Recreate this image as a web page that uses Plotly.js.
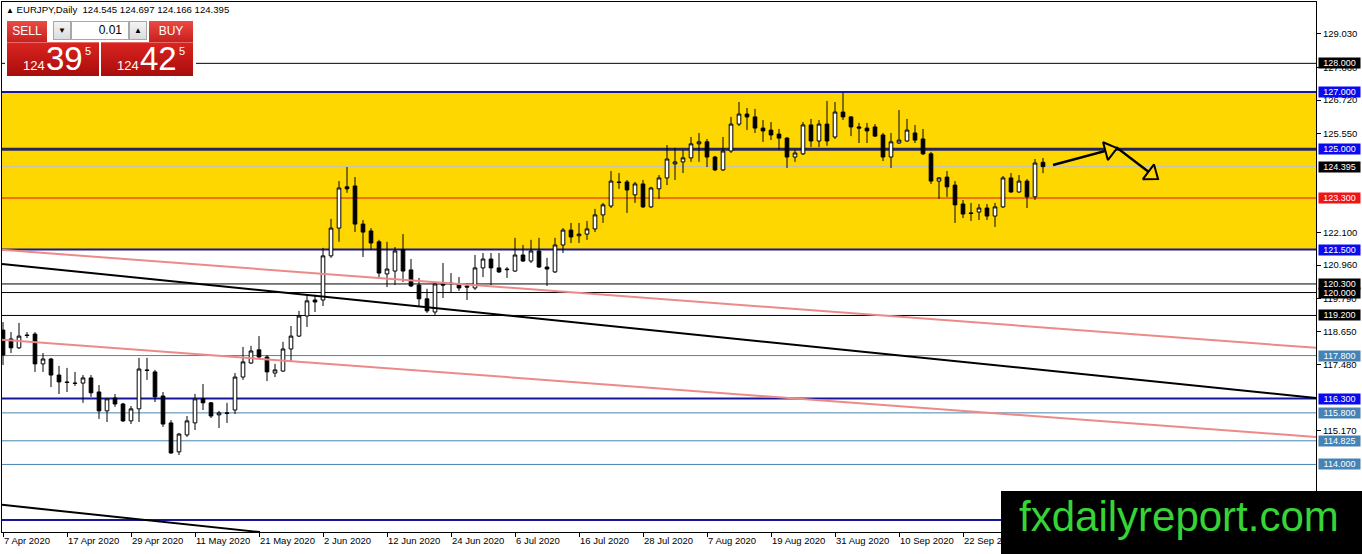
<!DOCTYPE html>
<html>
<head>
<meta charset="utf-8">
<script src="https://cdn.plot.ly/plotly-3.0.1.min.js"></script>
<style>
  html, body { margin:0; padding:0; background:#fff; }
  #wrap { position:relative; width:1362px; height:554px; overflow:hidden; font-family:'Liberation Sans', Arial, sans-serif; }
  #chart { position:absolute; left:0; top:0; width:1362px; height:554px; }
  .ov { position:absolute; }
  #hdr { left:6px; top:5px; font-size:9.6px; line-height:9px; color:#000; white-space:pre; }
  #hdr .tri { font-size:8px; }
  #panelBg { left:5px; top:19px; width:191px; height:59px; background:#fff; }
  .btn { top:21px; height:21px; color:#fff; font-size:12px; line-height:21px; text-align:center;
         background:linear-gradient(#ea4a44, #c8201e); }
  #sellBtn { left:7px; width:40px; }
  #buyBtn { left:149px; width:44px; }
  .spin { top:21px; width:18px; height:19px; background:linear-gradient(#f4f4f4,#dcdcdc); border:1px solid #a8a8a8;
          box-sizing:border-box; font-size:8px; line-height:18px; text-align:center; color:#000; }
  #spinDn { left:53px; }
  #spinUp { left:129px; }
  #lot { left:71px; top:21px; width:58px; height:19px; background:#fff; border:1px solid #a8a8a8; box-sizing:border-box;
         font-size:12px; line-height:17px; text-align:right; padding-right:6px; color:#000; }
  .pbox { top:42px; width:92px; height:34px; background:linear-gradient(#da2420, #a80c0c); border-top:1px solid #e86a66; box-sizing:border-box; color:#fff; }
  #sellBox { left:7px; }
  #buyBox { left:101px; }
  .pbox span { position:absolute; line-height:1; white-space:nowrap; }
  .pbox .s { font-size:13px; top:16px; }
  .pbox .b { font-size:33px; top:-1px; font-family:'Liberation Sans Narrow','Liberation Sans',Arial,sans-serif; }
  .pbox .p { font-size:11px; top:3px; }
  #logo { left:1001px; top:491px; width:361px; height:63px; background:#000; }
  #logo div { position:absolute; left:18px; top:5px; font-size:42px; line-height:42px; color:#36d436; white-space:nowrap; }
</style>
</head>
<body>
<div id="wrap">
  <div id="chart"></div>
  <div class="ov" id="hdr"><span class="tri">&#9650;</span> EURJPY,Daily  124.545 124.697 124.166 124.395</div>
  <div class="ov" id="panelBg"></div>
  <div class="ov btn" id="sellBtn">SELL</div>
  <div class="ov spin" id="spinDn">&#9660;</div>
  <div class="ov" id="lot">0.01</div>
  <div class="ov spin" id="spinUp">&#9650;</div>
  <div class="ov btn" id="buyBtn">BUY</div>
  <div class="ov pbox" id="sellBox"><span class="s" style="left:16px">124</span><span class="b" style="left:39px">39</span><span class="p" style="left:78px">5</span></div>
  <div class="ov pbox" id="buyBox"><span class="s" style="left:16px">124</span><span class="b" style="left:39px">42</span><span class="p" style="left:78px">5</span></div>
  <div class="ov" id="logo"><div>fxdailyreport.com</div></div>
</div>
<script>
// ---------------- data (EURJPY daily, 7 Apr 2020 onwards) ----------------
const openP = [
 118.69,118.38,118.07,118.52,118.55,117.51,117.68,117.12,116.88,116.84,
 116.84,117.02,116.53,115.87,116.32,116.11,115.52,115.94,117.30,117.23,
 116.39,115.45,114.44,115.03,115.45,116.29,116.15,115.73,115.80,115.90,
 117.05,117.54,118.00,117.75,117.19,117.26,118.03,118.48,119.18,119.74,
 119.74,121.28,122.25,123.69,123.72,122.39,122.15,121.77,120.65,120.75,
 121.49,120.79,120.26,119.78,119.32,120.30,120.33,120.30,120.23,120.16,
 120.86,121.17,120.86,120.82,120.75,121.31,121.10,121.45,120.89,120.72,
 121.66,122.18,121.98,122.04,122.22,122.71,123.02,123.86,123.86,123.41,
 123.79,122.99,123.62,124.00,124.49,124.56,124.70,125.19,125.26,124.73,
 124.28,124.94,125.88,126.23,126.13,125.74,125.67,125.53,125.39,124.73,
 124.84,125.85,125.29,125.88,125.43,126.30,126.13,125.78,125.74,125.78,
 125.50,124.73,125.22,125.29,125.57,125.36,124.84,123.89,124.03,123.75,
 123.09,122.78,122.81,122.95,122.67,122.99,124.00,123.51,123.89,123.34,
 124.545];
const highP = [
 118.97,118.62,118.94,118.62,118.62,117.89,117.72,117.44,117.37,117.23,
 117.12,117.12,116.77,116.32,116.46,116.15,116.04,117.72,117.72,117.30,
 116.53,115.55,115.10,115.69,116.46,116.81,116.18,115.87,116.15,117.19,
 118.10,118.14,118.48,117.82,117.51,118.28,118.83,119.36,119.92,119.92,
 121.56,122.57,123.89,124.38,124.03,122.53,122.25,121.84,121.77,121.59,
 122.04,121.17,120.51,120.13,120.33,121.03,120.68,120.54,120.33,121.31,
 121.38,121.38,121.38,120.89,121.91,121.66,121.84,121.91,121.21,121.91,
 122.25,122.43,122.43,122.50,122.92,123.13,124.24,124.17,123.93,123.86,
 123.93,123.69,124.10,125.15,125.05,124.98,125.43,125.57,125.36,124.77,
 125.43,126.13,126.65,126.44,126.41,126.02,125.95,125.71,125.43,124.98,
 125.95,126.06,126.02,126.69,126.65,126.97,126.16,125.92,125.92,125.88,
 125.57,125.57,126.37,126.06,125.85,125.71,124.91,124.03,124.24,123.89,
 123.23,123.13,123.09,123.09,123.13,124.07,124.17,124.10,123.96,124.66,
 124.697];
const lowP = [
 117.47,117.89,118.03,118.41,117.23,117.23,116.70,116.46,116.53,116.74,
 116.15,116.36,115.59,115.48,116.01,115.48,115.41,115.48,116.95,116.18,
 115.31,114.37,114.33,114.96,115.20,115.90,115.62,115.27,115.45,115.76,
 116.95,117.51,117.68,116.91,117.05,117.23,117.58,118.45,118.80,119.32,
 119.53,121.21,121.77,123.48,122.11,121.24,121.49,120.54,120.19,120.26,
 120.37,120.19,119.50,119.29,119.22,119.81,119.99,120.06,119.74,120.09,
 120.54,120.26,120.68,120.51,120.72,121.07,121.03,120.86,120.23,120.68,
 121.38,121.73,121.73,121.84,122.11,122.43,122.95,123.62,122.78,123.13,
 122.95,122.95,123.27,123.75,123.93,124.17,124.56,124.56,124.38,124.24,
 124.24,124.87,125.81,125.67,125.57,125.26,125.32,124.98,124.35,124.56,
 124.80,125.08,125.08,125.12,125.36,126.02,125.46,125.22,125.22,125.43,
 124.59,124.35,125.19,125.26,125.22,124.80,123.79,123.27,123.34,122.43,
 122.60,122.50,122.53,122.53,122.29,122.95,123.48,123.48,122.95,123.23,
 124.166];
const closeP = [
 117.82,118.07,118.48,118.50,117.51,117.68,117.12,116.88,116.86,116.83,
 117.02,116.50,115.87,116.29,116.11,115.52,115.94,117.33,117.28,116.36,
 115.41,114.40,115.06,115.52,116.29,116.15,115.69,115.80,115.78,117.05,
 117.58,117.96,117.75,117.23,117.30,118.03,118.48,119.18,119.71,119.67,
 121.28,122.25,123.65,123.62,122.39,122.11,121.73,120.68,120.82,121.45,
 120.75,120.23,119.78,119.36,120.30,120.26,120.31,120.16,120.19,120.86,
 121.17,120.86,120.72,120.80,121.31,121.10,121.45,120.89,120.82,121.66,
 122.18,121.94,122.04,122.22,122.71,123.06,123.89,123.84,123.58,123.79,
 122.99,123.65,124.00,124.66,124.56,124.70,125.19,125.26,124.73,124.28,
 124.94,125.88,126.23,126.13,125.74,125.64,125.50,125.39,124.73,124.87,
 125.85,125.29,125.88,125.29,126.30,126.13,125.78,125.74,125.64,125.46,
 124.73,125.26,125.32,125.67,125.32,124.84,123.89,124.00,123.69,123.06,
 122.74,122.76,122.95,122.67,122.99,124.00,123.51,123.89,123.34,124.52,
 124.395];

// x-axis date labels, one every 8 bars starting at the first bar
const dateLabels = ['7 Apr 2020','17 Apr 2020','29 Apr 2020','11 May 2020','21 May 2020','2 Jun 2020',
  '12 Jun 2020','24 Jun 2020','6 Jul 2020','16 Jul 2020','28 Jul 2020','7 Aug 2020','19 Aug 2020',
  '31 Aug 2020','10 Sep 2020','22 Sep 2020'];
const barsPerLabel = 8;

// price scale tick values shown on the right axis
const yTickVals = [129.03,127.86,126.72,125.55,122.10,120.96,119.79,118.65,117.48,115.17];

// horizontal levels
const zoneLow = 121.5, zoneHigh = 127.0;
const levelPrices = [128.0,127.0,125.0,124.395,123.3,121.5,120.3,120.0,119.2,117.8,116.3,115.8,114.825,114.0,112.06];
const levelKinds  = ['k','b','b2','bid','r','b','k','k','k','s','b','s','s','s','b'];
const labeledLevels = [128.0,127.0,125.0,124.395,123.3,121.5,120.0,120.3,119.2,117.8,116.3,115.8,114.825,114.0];
const labelKinds    = ['k','b','b','k','r','b','k','k','k','s','b','s','s','s'];

// trend lines (bar index, price) at the chart edges
const blackTrendX = [-0.125,164.125], blackTrendY = [121.00,116.32];
const pinkTrend1X = [-0.125,164.125], pinkTrend1Y = [121.49,118.07];
const pinkTrend2X = [-0.125,164.125], pinkTrend2Y = [118.35,114.96];
const blackTrend2X = [-0.125,32.125], blackTrend2Y = [112.59,111.64];

// forecast arrow drawn on the chart (bar index, price)
const arrowX = [131.25,139.25,144.375];
const arrowY = [124.45,125.05,123.96];
const headX = [138.29,143.58], headY = [124.97,124.13], headAngle = [75,127];

// ---------------- build ----------------
const xIdx = openP.map((_, i) => i);
const tickVals = dateLabels.map((_, k) => k * barsPerLabel);

const lineStyle = {
  k:   {color:'#000000', width:1},
  b:   {color:'#16169a', width:2},
  b2:  {color:'#26265e', width:3},
  bid: {color:'#c0c0c0', width:1},
  r:   {color:'#e01010', width:1},
  s:   {color:'#4a84b0', width:1}
};
const labelBg = {k:'#000000', b:'#0a0af0', r:'#f01414', s:'#4682b4'};
const FONT = 'Liberation Sans, Arial, sans-serif';

const shapes = [{type:'rect', xref:'paper', x0:0, x1:1, yref:'y', y0:zoneLow, y1:zoneHigh,
  fillcolor:'#ffd700', line:{width:0}, layer:'below'}];
levelPrices.forEach((p, i) => {
  shapes.push({type:'line', xref:'paper', x0:0, x1:1, yref:'y', y0:p, y1:p,
    line:lineStyle[levelKinds[i]], layer:'below'});
});

const annotations = labeledLevels.map((p, i) => ({
  xref:'paper', x:1, xanchor:'left', xshift:2, yref:'y', y:p, yanchor:'middle',
  text:p.toFixed(3), showarrow:false, bgcolor:labelBg[labelKinds[i]],
  font:{family:FONT, size:9, color:'#ffffff'}, width:41, height:10, borderpad:0, align:'center'
}));

const traces = [
  {type:'candlestick', x:xIdx, open:openP, high:highP, low:lowP, close:closeP,
   increasing:{line:{color:'#000', width:1}, fillcolor:'#ffffff'},
   decreasing:{line:{color:'#000', width:1}, fillcolor:'#000000'},
   whiskerwidth:0, hoverinfo:'skip'},
  {type:'scatter', mode:'lines', x:blackTrendX, y:blackTrendY, line:{color:'#000', width:2}, hoverinfo:'skip'},
  {type:'scatter', mode:'lines', x:blackTrend2X, y:blackTrend2Y, line:{color:'#000', width:2}, hoverinfo:'skip'},
  {type:'scatter', mode:'lines', x:pinkTrend1X, y:pinkTrend1Y, line:{color:'#ec8a8a', width:2}, hoverinfo:'skip'},
  {type:'scatter', mode:'lines', x:pinkTrend2X, y:pinkTrend2Y, line:{color:'#ec8a8a', width:2}, hoverinfo:'skip'},
  {type:'scatter', mode:'lines', x:arrowX, y:arrowY, line:{color:'#000', width:2.5}, hoverinfo:'skip'},
  {type:'scatter', mode:'markers', x:headX, y:headY,
   marker:{symbol:'triangle-up', size:16, color:'#ffd700', angle:headAngle, line:{color:'#000', width:2}}, hoverinfo:'skip'}
];

const layout = {
  width:1362, height:554,
  margin:{l:2, r:46, t:2, b:22, pad:0},
  paper_bgcolor:'#ffffff', plot_bgcolor:'#ffffff',
  showlegend:false, hovermode:false, boxgap:0.35,
  xaxis:{range:[-0.125,164.125], showgrid:false, zeroline:false, showline:true, mirror:true,
    linecolor:'#000', linewidth:1, ticks:'outside', ticklen:4, tickcolor:'#000',
    tickvals:tickVals, ticktext:dateLabels, ticklabelposition:'outside right',
    tickfont:{family:FONT, size:9.5, color:'#000'}, rangeslider:{visible:false}, fixedrange:true},
  yaxis:{side:'right', range:[111.642,130.141], showgrid:false, zeroline:false, showline:true, mirror:true,
    linecolor:'#000', linewidth:1, ticks:'outside', ticklen:4, tickcolor:'#000',
    tickvals:yTickVals, tickformat:'.3f', tickfont:{family:FONT, size:9.5, color:'#000'}, fixedrange:true},
  shapes:shapes, annotations:annotations
};

Plotly.newPlot('chart', traces, layout, {displayModeBar:false, staticPlot:true});
</script>
</body>
</html>
